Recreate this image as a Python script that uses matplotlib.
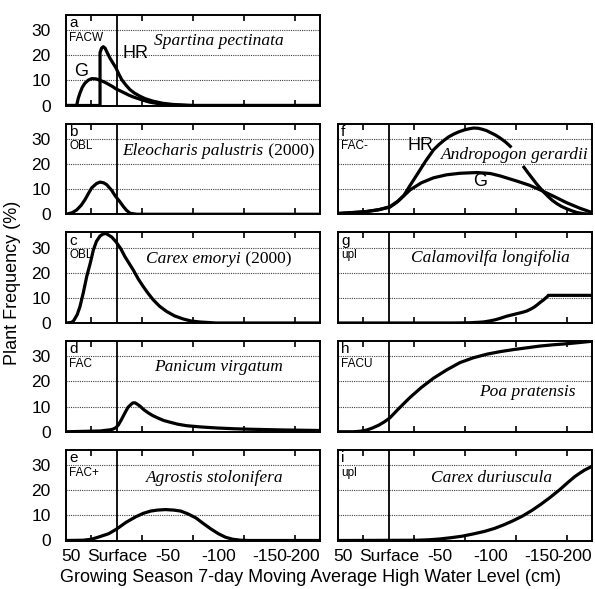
"""
Plant frequency vs growing season 7-day moving average high water level,
nine species panels (a-i), left column a-e and right column f-i.
"""
import numpy as np
import matplotlib
matplotlib.use("Agg")
import matplotlib.pyplot as plt

SANS = "Liberation Sans"
SERIF = "Liberation Serif"

# --- data (x in cm relative to surface, y in %) ---
a_g_x = [50, 39.5, 38, 36.2, 34, 31.3, 28, 24.7, 20.5, 16.5, 12, 8, 4, 0.8, -4, -8, -12, -16.2,
         -25, -32.7, -40, -49, -58, -69, -200]
a_g_y = [0, 0, 2.8, 5.0, 7.2, 8.9, 10.1, 10.7, 10.6, 10.0, 9.3, 8.4, 7.5, 6.6, 5.7, 4.9, 4.1, 3.4,
         2.2, 1.3, 0.8, 0.4, 0.15, 0, 0]
a_hr_x = [50, 16.5, 16.5, 15, 13.3, 11.5, 10, 6.7, 3.5, 0.8, -2, -4.8, -9, -13, -17.5, -22.8,
          -28, -35.9, -45, -55.6, -75, -200]
a_hr_y = [0, 0, 21.0, 22.8, 23.4, 22.8, 21.5, 18.8, 16.7, 14.9, 12.5, 10.3, 8.1, 6.3, 4.9, 3.7,
          2.7, 1.7, 0.9, 0.4, 0, 0]

b_x = [50, 44, 39.5, 35, 31.3, 28, 24.7, 20, 16.5, 13, 10, 5, 3, 0.8, -3, -6.4, -9.5, -13, -19.5, -200]
b_y = [0, 0.6, 1.7, 3.6, 5.8, 8.2, 10.5, 12.2, 12.8, 12.5, 11.8, 9.5, 8.2, 6.9, 5.0, 3.1, 1.6, 0.4, 0, 0]

c_x = [50, 45, 42.8, 39, 36.2, 33, 29.6, 26, 23.1, 20, 16.5, 13.5, 10.6, 5, 0.8, -4, -8, -12,
       -16.2, -21, -26, -31, -35.9, -42, -49, -57, -65.4, -73, -81.9, -98, -200]
c_y = [0, 0.2, 0.7, 3.3, 6.6, 12.0, 18.5, 24.0, 29.0, 32.5, 34.6, 35.4, 35.6, 34.2, 32.3, 29.5,
       26.4, 23.8, 21.1, 17.6, 14.5, 11.7, 9.2, 6.7, 4.6, 2.8, 1.6, 0.8, 0.4, 0, 0]

d_x = [50, 16.5, 6, 3.4, 1, -1.5, -4.5, -8, -11, -14.6, -16, -17.9, -20, -22.8, -26.5, -31,
       -35.5, -40.8, -46, -52.3, -60, -68.8, -83, -98.3, -115, -131, -165, -200]
d_y = [0, 0.3, 0.8, 1.1, 1.6, 2.7, 4.8, 7.5, 9.7, 11.1, 11.5, 11.5, 11.0, 10.2, 8.8, 7.5,
       6.4, 5.4, 4.5, 3.8, 3.0, 2.4, 1.9, 1.5, 1.2, 1.0, 0.7, 0.5]

e_x = [50, 33.3, 25, 18.5, 8, 0, -9, -18.5, -26, -33.3, -40, -48, -56, -63, -70, -77.8, -85,
       -92.6, -100, -107, -114, -122, -130, -200]
e_y = [0, 0.1, 0.5, 1.3, 2.7, 4.6, 7.2, 9.4, 10.8, 11.7, 12.1, 12.3, 12.1, 11.7, 10.6, 9.0, 6.8,
       4.6, 2.7, 1.3, 0.5, 0.1, 0, 0]

f_g_x = [50, 21.5, 10, -1, -10, -21, -32, -44, -57, -70, -87, -100, -110, -126, -138, -149,
         -162, -175, -188, -200]
f_g_y = [0.3, 1.1, 1.8, 3.0, 5.5, 9.7, 12.5, 14.5, 15.7, 16.3, 16.6, 16.2, 15.2, 13.2, 11.6, 9.7,
         7.2, 4.6, 2.4, 0.7]
f_hr_x = [50, 25, 10, -1, -8, -15, -21, -28, -36, -44, -49, -54, -59, -64, -69, -74, -79, -83.5,
          -88, -92, -96, -100, -105, -110, -115, -119.6,
          np.nan, -133, -137, -141, -145, -149, -153, -157, -161, -165.5, -170, -175, -180, -185, -192, -200]
f_hr_y = [0.3, 0.9, 1.8, 2.8, 4.8, 7.6, 11.5, 15.9, 21.0, 25.6, 27.6, 29.3, 30.8, 31.9, 32.8, 33.5,
          34.0, 34.3, 34.2, 33.8, 33.3, 32.5, 31.5, 30.2, 28.7, 27.0,
          np.nan, 18.7, 16.5, 14.4, 12.3, 10.4, 8.6, 7.0, 5.5, 4.2, 3.1, 2.2, 1.4, 0.7, 0.2, 0]

g_x = [50, -60, -70, -80, -87, -93, -99, -105, -110, -116, -121, -127, -132, -136, -140, -143,
       -146, -149, -152, -154, -156, -157, -200]
g_y = [0, 0, 0.03, 0.1, 0.25, 0.4, 0.8, 1.3, 1.9, 2.7, 3.2, 3.8, 4.3, 4.8, 5.6, 6.3,
       7.2, 8.2, 9.1, 9.8, 10.5, 11.0, 11.0]

h_x = [50, 35, 28, 21.5, 16, 10, 4.5, -1, -10, -21, -32, -44, -57, -70, -83, -97, -110, -123,
       -136, -149, -162, -175, -188, -200]
h_y = [0, 0, 0.2, 0.7, 1.5, 2.6, 3.9, 5.5, 9.3, 13.7, 17.6, 21.3, 24.6, 27.5, 29.4, 30.9, 31.9,
       32.7, 33.4, 34.1, 34.6, 35.0, 35.5, 36.0]

i_x = [50, -27.8, -40, -50, -61, -72, -83, -94, -104, -113, -122, -131.5, -141, -150, -159,
       -168.5, -176, -183, -188, -192.6, -200]
i_y = [0, 0.1, 0.3, 0.6, 1.1, 1.7, 2.6, 3.6, 4.8, 6.2, 7.8, 9.7, 12.0, 14.5, 17.2,
       20.3, 23.0, 25.4, 26.8, 28.0, 29.5]

tick_pos = [45, 0, -50, -100, -150, -183]
tick_labels = ["50", "Surface", "-50", "-100", "-150", "-200"]

# panel: (letter, category, species, year, column, row, curves, species text xy)
panels = [
    ("a", "FACW", "Spartina pectinata", "", 0, 0, [(a_g_x, a_g_y), (a_hr_x, a_hr_y)], (-100, 25.7)),
    ("b", "OBL", "Eleocharis palustris", " (2000)", 0, 1, [(b_x, b_y)], (-100, 25.0)),
    ("c", "OBL", "Carex emoryi", " (2000)", 0, 2, [(c_x, c_y)], (-100, 25.3)),
    ("d", "FAC", "Panicum virgatum", "", 0, 3, [(d_x, d_y)], (-100, 25.8)),
    ("e", "FAC+", "Agrostis stolonifera", "", 0, 4, [(e_x, e_y)], (-96, 24.8)),
    ("f", "FAC-", "Andropogon gerardii", "", 1, 1, [(f_g_x, f_g_y), (f_hr_x, f_hr_y)], (-124, 23.5)),
    ("g", "upl", "Calamovilfa longifolia", "", 1, 2, [(g_x, g_y)], (-100, 25.7)),
    ("h", "FACU", "Poa pratensis", "", 1, 3, [(h_x, h_y)], (-136, 16.0)),
    ("i", "upl", "Carex duriuscula", "", 1, 4, [(i_x, i_y)], (-101, 25.0)),
]

W, H = 595, 589
fig = plt.figure(figsize=(W / 100, H / 100), dpi=100)
renderer = fig.canvas.get_renderer()

for letter, cat, species, year, col, row, curves, (sx, sy) in panels:
    left = 66 if col == 0 else 338
    top = 15 + 108.75 * row
    ax = fig.add_axes([left / W, 1 - (top + 90.5) / H, 254 / W, 90.5 / H])
    ax.set_xlim(50, -200)
    ax.set_ylim(0, 36)

    for y in [10, 20, 30]:
        ax.axhline(y, color="0.25", lw=0.8, ls=(0, (1, 1)), zorder=1)
    ax.axvline(0, color="black", lw=1.3, zorder=2)

    for xs, ys in curves:
        ax.plot(xs, ys, color="black", lw=2.3, zorder=3)

    for s in ax.spines.values():
        s.set_linewidth(1.4)

    ax.set_xticks(tick_pos)
    ax.set_xticks(np.arange(25, -200, -25), minor=True)
    ax.tick_params(axis="x", which="major", length=0, pad=6)
    ax.tick_params(axis="x", which="minor", direction="in", length=4, width=1.2,
                   top=True, bottom=True)
    if row == 4:
        ax.set_xticklabels(tick_labels, fontsize=12.5, family=SANS)
    else:
        ax.set_xticklabels([])

    ax.set_yticks([0, 10, 20, 30])
    ax.tick_params(axis="y", length=0, pad=11)
    if col == 0:
        ax.set_yticklabels(["0", "10", "20", "30"], fontsize=12.5, family=SANS)
    else:
        ax.set_yticklabels([])

    ax.text(0.012, 0.865, letter, transform=ax.transAxes, fontsize=11,
            family=SANS, va="baseline", ha="left")
    ax.text(0.012, 0.75, cat, transform=ax.transAxes, fontsize=8.5,
            family=SANS, va="center", ha="left")

    # species name in italic, optional upright year after it
    t1 = ax.text(sx, sy, species, fontsize=12.5, family=SERIF, style="italic",
                 ha="center", va="center")
    if year:
        t2 = ax.text(sx, sy, year, fontsize=12.5, family=SERIF, ha="left", va="center")
        w1 = t1.get_window_extent(renderer).width
        w2 = t2.get_window_extent(renderer).width
        cx, cy = ax.transData.transform((sx, sy))
        inv = ax.transData.inverted()
        t1.set_position(inv.transform((cx - w2 / 2, cy)))
        t2.set_position(inv.transform((cx - w2 / 2 + w1 / 2, cy)))

    if letter == "a":
        ax.text(35, 13.4, "G", fontsize=13, family=SANS, ha="center", va="center")
        ax.text(-18, 20.5, "HR", fontsize=13, family=SANS, ha="center", va="center")
    if letter == "f":
        ax.text(-31, 27.3, "HR", fontsize=13, family=SANS, ha="center", va="center")
        ax.text(-90, 13.2, "G", fontsize=13, family=SANS, ha="center", va="center")

fig.text(13 / W, 1 - 283 / H, "Plant Frequency (%)", rotation=90, fontsize=13,
         family=SANS, ha="center", va="center")
fig.text(310 / W, 1 - 578 / H, "Growing Season 7-day Moving Average High Water Level (cm)",
         fontsize=13, family=SANS, ha="center", va="center")

fig.savefig("out.png", dpi=100)
